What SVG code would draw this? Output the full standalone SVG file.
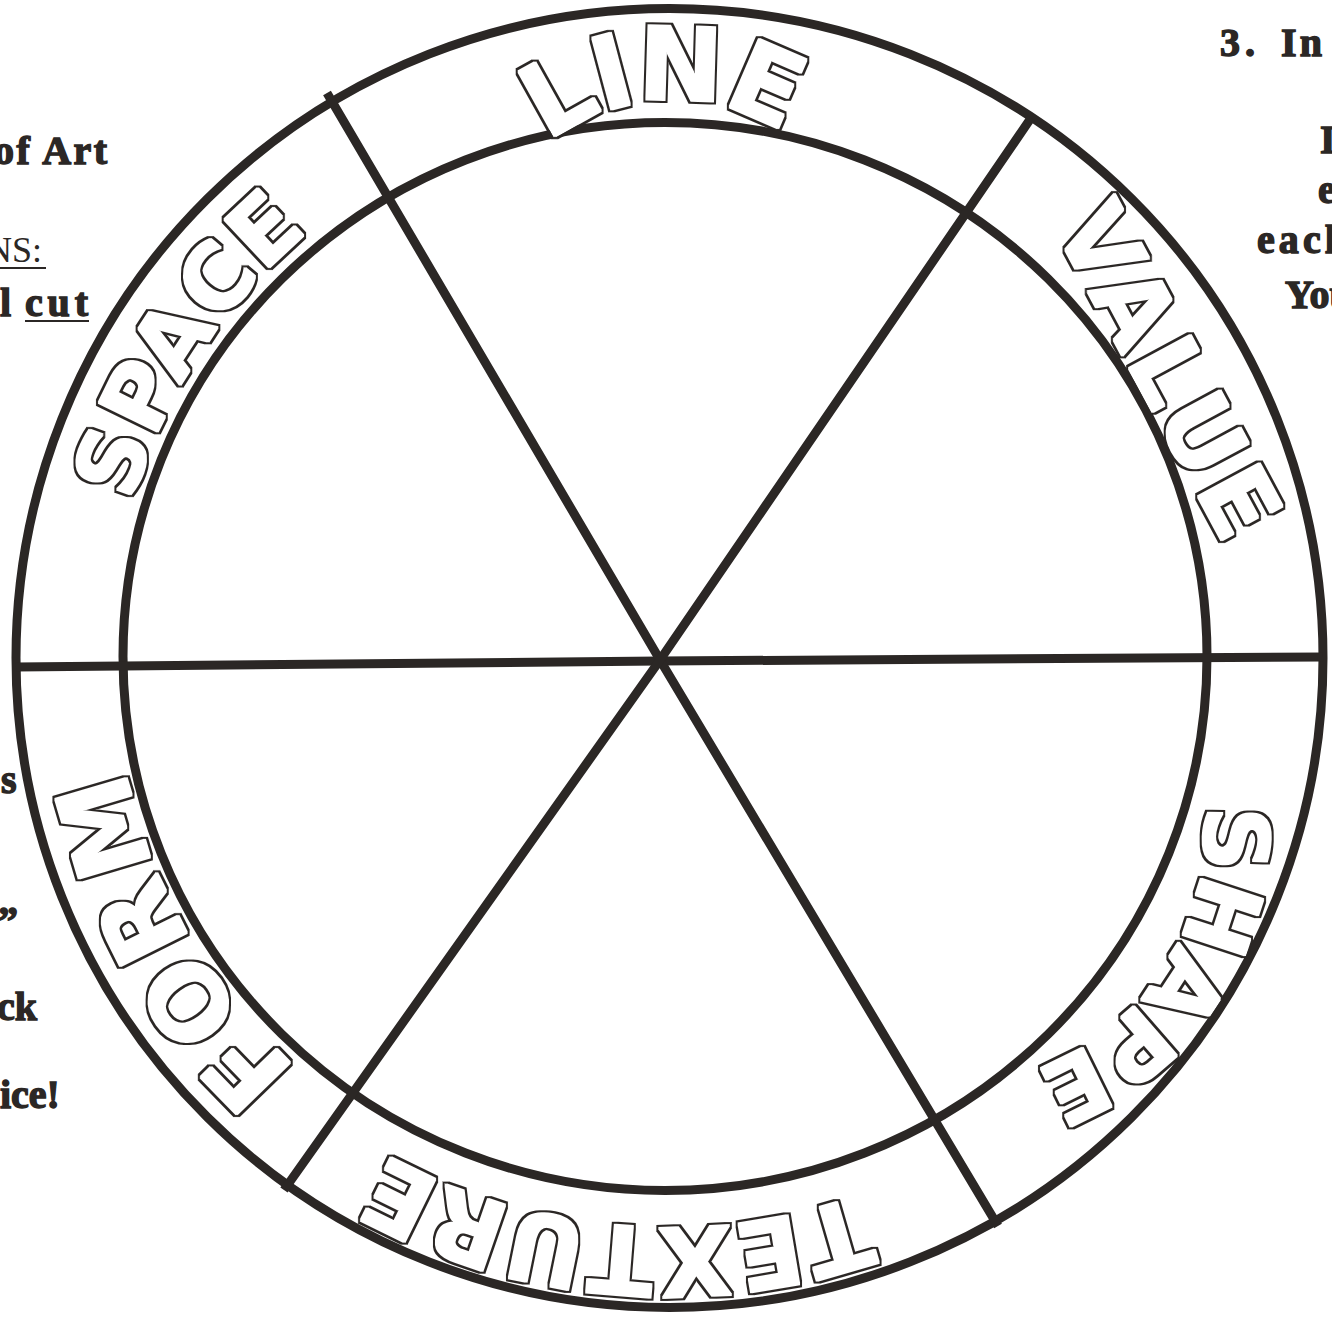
<svg xmlns="http://www.w3.org/2000/svg" xmlns:xlink="http://www.w3.org/1999/xlink" width="1332" height="1322" viewBox="0 0 1332 1322">
  <defs>
    <path id="pLine" d="M680.88,499.30 A199.5,199.5 0 1 1 663.12,100.70 A199.5,199.5 0 1 1 680.88,499.30"/>
    <path id="pValue" d="M950.6,36.4 L1329.4,741.2"/>
    <path id="pShape" d="M746.95,699.92 A247,247 0 1 1 1163.05,966.08 A247,247 0 1 1 746.95,699.92"/>
    <path id="pTexture" d="M716.59,91.17 A569,569 0 1 1 617.41,1224.83 A569,569 0 1 1 716.59,91.17"/>
    <path id="pForm" d="M1147.7,386 A552.3,552.3 0 1 1 186.3,930 A552.3,552.3 0 1 1 1147.7,386"/>
    <path id="pSpace" d="M1133.1,962.96 A557,557 0 1 1 200.9,353.04 A557,557 0 1 1 1133.1,962.96"/>
    <filter id="outline" x="-8%" y="-8%" width="116%" height="116%" color-interpolation-filters="sRGB">
      <feMorphology in="SourceAlpha" operator="dilate" radius="1.2" result="inner"/>
      <feMorphology in="SourceAlpha" operator="dilate" radius="2.6" result="outer"/>
      <feComposite in="outer" in2="inner" operator="out" result="ring"/>
      <feFlood flood-color="#2b2725" result="ink"/>
      <feComposite in="ink" in2="ring" operator="in" result="line"/>
      <feFlood flood-color="#ffffff" result="paper"/>
      <feComposite in="paper" in2="inner" operator="in" result="body"/>
      <feMerge><feMergeNode in="body"/><feMergeNode in="line"/></feMerge>
    </filter>
    <style>
      .ln { fill: none; stroke: #2b2725; stroke-width: 9; }
      .word { font-family: "DejaVu Sans", "Liberation Sans", sans-serif; font-weight: bold; fill: #000000; text-anchor: middle; }
      .hv { font-family: "Liberation Serif", "Times New Roman", serif; font-weight: bold; font-size: 40px; fill: #2b2725; stroke: #2b2725; stroke-width: 1.4; }
      .rg { font-family: "Liberation Serif", "Times New Roman", serif; font-size: 36px; fill: #2b2725; }
      .ul { stroke: #2b2725; stroke-width: 2; }
    </style>
  </defs>
  <rect width="1332" height="1322" fill="#ffffff"/>

  <g id="margin-left">
    <text class="hv" x="-6" y="164" textLength="113">of Art</text>
    <text class="rg" x="-14" y="262">NS:</text>
    <line class="ul" x1="0" y1="268" x2="46" y2="268"/>
    <text class="hv" x="0" y="316">l</text>
    <text class="hv" x="25" y="316" textLength="63">cut</text>
    <line class="ul" x1="25" y1="321" x2="89" y2="321"/>
    <text class="hv" x="1" y="793">s</text>
    <text class="hv" x="-2" y="934">”</text>
    <text class="hv" x="-3" y="1020">ck</text>
    <text class="hv" x="0" y="1108">ice!</text>
  </g>

  <g id="margin-right">
    <text class="hv" x="1220" y="56" textLength="35">3.</text>
    <text class="hv" x="1281" y="56" textLength="41">In</text>
    <text class="hv" x="1320" y="153">I</text>
    <text class="hv" x="1318" y="203">e</text>
    <text class="hv" x="1257" y="253" textLength="90">each</text>
    <text class="hv" x="1285" y="308">You</text>
  </g>

  <g id="wheel">
    <ellipse class="ln" cx="669.5" cy="658" rx="653.5" ry="649.5"/>
    <ellipse class="ln" cx="665" cy="656.5" rx="542" ry="534"/>
  </g>

  <g id="connectors">
    <polyline class="ln" points="16,667 660,661 1323,657"/>
    <polyline class="ln" points="327,93 660,660 998,1226"/>
    <polyline class="ln" points="1031,118 660,660 284,1190"/>
  </g>

  <g id="node-line" filter="url(#outline)"><text class="word" font-size="102" letter-spacing="-2"><textPath xlink:href="#pLine" startOffset="50%">LINE</textPath></text></g>
  <g id="node-value" filter="url(#outline)"><text class="word" font-size="96" letter-spacing="5"><textPath xlink:href="#pValue" startOffset="50%">VALUE</textPath></text></g>
  <g id="node-shape" filter="url(#outline)"><text class="word" font-size="90" letter-spacing="0"><textPath xlink:href="#pShape" startOffset="50%">SHAPE</textPath></text></g>
  <g id="node-texture" filter="url(#outline)"><text class="word" font-size="96" letter-spacing="0.5"><textPath xlink:href="#pTexture" startOffset="50%">TEXTURE</textPath></text></g>
  <g id="node-form" filter="url(#outline)"><text class="word" font-size="102" letter-spacing="5"><textPath xlink:href="#pForm" startOffset="50%">FORM</textPath></text></g>
  <g id="node-space" filter="url(#outline)"><text class="word" font-size="90" letter-spacing="2"><textPath xlink:href="#pSpace" startOffset="50%">SPACE</textPath></text></g>
</svg>
